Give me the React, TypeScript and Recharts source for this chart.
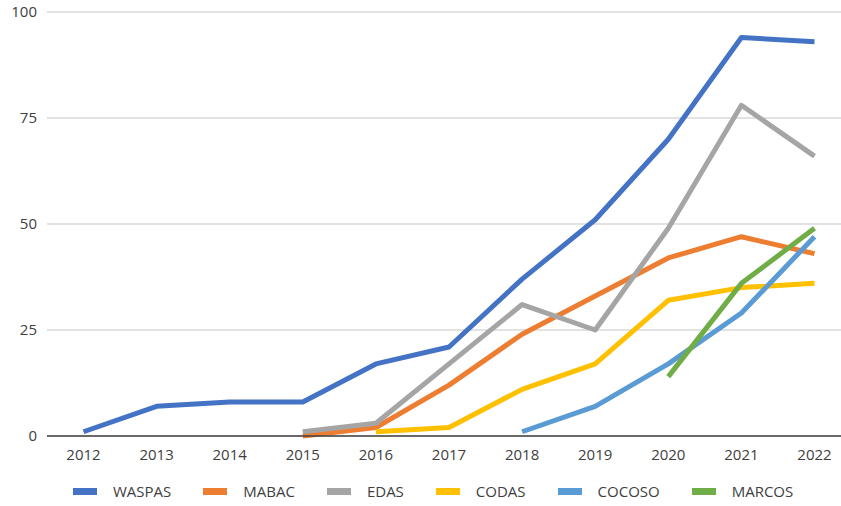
import { CartesianGrid, Legend, Line, LineChart, XAxis, YAxis } from "recharts";

const YEARS = ["2012", "2013", "2014", "2015", "2016", "2017", "2018", "2019", "2020", "2021", "2022"];
const Y_TICKS = [0, 25, 50, 75, 100];

const WASPAS = [1, 7, 8, 8, 17, 21, 37, 51, 70, 94, 93];
const MABAC = [null, null, null, 0, 2, 12, 24, 33, 42, 47, 43];
const EDAS = [null, null, null, 1, 3, 17, 31, 25, 49, 78, 66];
const CODAS = [null, null, null, null, 1, 2, 11, 17, 32, 35, 36];
const COCOSO = [null, null, null, null, null, null, 1, 7, 17, 29, 47];
const MARCOS = [null, null, null, null, null, null, null, null, 14, 36, 49];

const SERIES = [
  { key: "WASPAS", values: WASPAS, color: "#4472C4" },
  { key: "MABAC", values: MABAC, color: "#ED7D31" },
  { key: "EDAS", values: EDAS, color: "#A5A5A5" },
  { key: "CODAS", values: CODAS, color: "#FFC000" },
  { key: "COCOSO", values: COCOSO, color: "#5B9BD5" },
  { key: "MARCOS", values: MARCOS, color: "#70AD47" },
];

const data = YEARS.map((year, i) => {
  const row: Record<string, string | number | null> = { year };
  SERIES.forEach((s) => {
    row[s.key] = s.values[i];
  });
  return row;
});

const FONT = "'Open Sans', 'Noto Sans', sans-serif";
const TEXT = "#404040";

function ChartLegend() {
  return (
    <div
      style={{
        height: 40,
        width: 841,
        display: "flex",
        alignItems: "center",
        paddingTop: 10,
        paddingLeft: 73,
        boxSizing: "border-box",
        fontFamily: FONT,
        fontSize: 15,
        color: TEXT,
      }}
    >
      {SERIES.map((s) => (
        <div key={s.key} style={{ display: "flex", alignItems: "center", marginRight: 32 }}>
          <span style={{ display: "inline-block", width: 24, height: 7, background: s.color, marginRight: 16 }} />
          <span>{s.key}</span>
        </div>
      ))}
    </div>
  );
}

export default function App() {
  return (
    <div style={{ position: "absolute", left: 0, top: 0, width: 841, height: 506, overflow: "hidden", background: "#fff" }}>
      <LineChart width={851} height={506} data={data} margin={{ top: 12, right: 0, bottom: 0, left: 0 }}>
        <CartesianGrid vertical={false} stroke="#D9D9D9" strokeWidth={1.5} />
        <XAxis
          dataKey="year"
          padding={{ left: 36.5, right: 36.5 }}
          tickLine={false}
          tickMargin={7}
          height={30}
          axisLine={{ stroke: "#404040", strokeWidth: 1.5 }}
          tick={{ fill: TEXT, fontSize: 15, fontFamily: FONT }}
          interval={0}
        />
        <YAxis
          domain={[0, 100]}
          ticks={Y_TICKS}
          width={47}
          axisLine={false}
          tickLine={false}
          tickMargin={4}
          tick={{ fill: TEXT, fontSize: 15, fontFamily: FONT }}
        />
        <Legend verticalAlign="bottom" content={() => <ChartLegend />} />
        {SERIES.map((s) => (
          <Line
            key={s.key}
            dataKey={s.key}
            stroke={s.color}
            strokeWidth={5}
            strokeLinejoin="round"
            dot={false}
            activeDot={false}
            connectNulls={false}
            isAnimationActive={false}
          />
        ))}
      </LineChart>
    </div>
  );
}
